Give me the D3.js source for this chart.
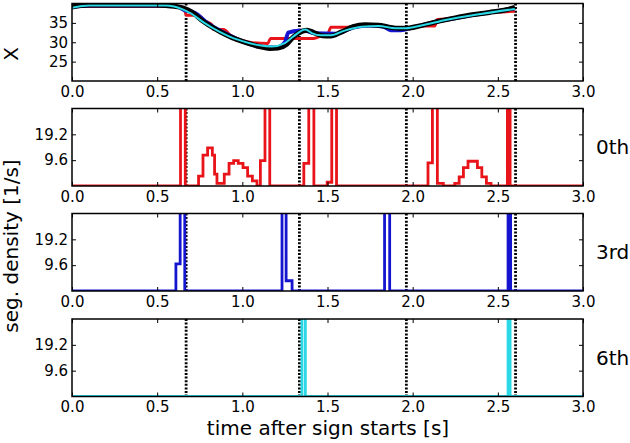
<!DOCTYPE html>
<html>
<head>
<meta charset="utf-8">
<script src="https://cdn.jsdelivr.net/npm/d3@7"></script>
<style>
  body { margin: 0; background: #fff; }
  text { font-family: "DejaVu Sans", sans-serif; }
</style>
</head>
<body>
<svg id="chart" width="630" height="443"></svg>
<script>
// sign onsets (dotted verticals)
const onsets = [0.67, 1.335, 1.963, 2.604];
const xTicks = [0, 0.5, 1.0, 1.5, 2.0, 2.5, 3.0];
const xTopTicks = [25, 30, 35];
const densTicks = [9.6, 19.2];
const rowLabels = ["0th", "3rd", "6th"];

// top panel: trajectories [time, X]
const blackLine = [[0,39.1],[0.05,39.5],[0.1,39.6],[0.3,39.6],[0.5,39.6],[0.55,39.5],[0.6,39.3],[0.65,38.9],
  [0.7,37.9],[0.77,35.4],[0.87,32.7],[0.94,31.2],[1.0,30.2],[1.1,28.9],[1.16,28.4],[1.21,28.5],[1.26,29.5],
  [1.3,31.4],[1.35,32.8],[1.38,33.1],[1.42,32.5],[1.47,31.7],[1.52,31.6],[1.58,32.6],[1.65,34.0],[1.72,34.5],
  [1.8,34.4],[1.86,33.9],[1.92,33.6],[1.98,33.7],[2.05,34.3],[2.15,35.4],[2.25,36.3],[2.35,37.1],[2.45,37.7],
  [2.55,38.4],[2.6,39.0]];
const cyanLine = [[0,38.9],[0.1,39.5],[0.55,39.5],[0.6,39.2],[0.65,38.5],[0.7,37.4],[0.77,35.2],[0.87,32.6],
  [0.95,31.0],[1.0,30.3],[1.1,29.2],[1.17,28.9],[1.25,29.8],[1.3,31.5],[1.37,33.3],[1.41,32.3],[1.46,31.8],
  [1.52,31.8],[1.6,33.0],[1.7,34.0],[1.8,34.2],[1.9,33.6],[1.96,33.6],[2.05,34.3],[2.2,35.8],[2.4,37.3],[2.6,38.6]];
const blueLine = [[0,39.1],[0.1,39.5],[0.55,39.5],[0.62,39.2],[0.66,38.3],[0.72,37.6],[0.8,34.8],[0.9,32.3],
  [1.0,30.2],[1.1,28.9],[1.2,28.6],[1.25,30.0],[1.27,32.5],[1.33,33.0],[1.37,33.0],[1.42,32.3],[1.55,32.2],
  [1.65,33.8],[1.75,34.3],[1.83,34.0],[1.87,33.1],[1.93,33.1],[2.0,33.8],[2.15,35.4],[2.35,37.0],[2.6,38.8]];
const redLine = [[0,39.2],[0.62,39.2],[0.66,38.3],[0.672,37.0],[0.74,37.0],[0.78,35.5],[0.82,34.6],[0.83,33.3],
  [0.89,33.3],[0.93,31.8],[1.0,30.4],[1.06,29.9],[1.15,29.7],[1.165,31.0],[1.42,31.0],[1.46,31.6],[1.5,32.0],
  [1.52,33.9],[1.62,33.9],[1.7,34.4],[1.82,34.4],[1.86,33.6],[1.97,33.5],[2.06,34.2],[2.13,34.2],[2.145,35.9],
  [2.19,36.0],[2.3,36.8],[2.45,37.6],[2.55,37.9],[2.6,38.0]];

// segment density histograms [bin start, value]
const density0th = [[0,0],[0.637,40],[0.665,0],[0.743,3.7],[0.769,11.5],[0.796,14.2],[0.824,11.5],[0.837,4.4],
  [0.851,1.0],[0.894,4.4],[0.922,8.4],[0.949,9.4],[0.976,8.4],[1.004,6.8],[1.031,3.7],[1.059,1.9],[1.086,0],
  [1.106,9.4],[1.133,40],[1.161,0],[1.361,8.4],[1.39,40],[1.42,0],[1.498,1.4],[1.525,40],[1.553,0],[2.09,8.6],
  [2.116,40],[2.145,1.0],[2.18,0],[2.247,1.0],[2.273,3.4],[2.298,6.8],[2.325,9.2],[2.38,6.8],[2.406,3.4],
  [2.433,1.0],[2.46,0],[2.556,40],[2.572,0],[3.0,0]];
const density3rd = [[0,0],[0.61,10.1],[0.635,40],[0.662,0],[1.233,40],[1.257,3.8],[1.292,0],[1.835,40],
  [1.865,0],[2.56,40],[2.575,0],[3.0,0]];
const density6th = [[0,0],[1.35,40],[1.37,0],[2.56,40],[2.572,0],[3.0,0]];

const svg = d3.select("#chart");
const left = 72, right = 583, ph = 77.5;
const tops = [3.5, 108.5, 213.5, 319];

const x = d3.scaleLinear().domain([0, 3]).range([left, right]);

function panel(i, yDomain, yTickVals, fmt) {
  const g = svg.append("g").attr("transform", `translate(0,${tops[i]})`);
  const y = d3.scaleLinear().domain(yDomain).range([ph, 0]);
  g.append("clipPath").attr("id", "clip" + i)
    .append("rect").attr("x", left).attr("y", 0).attr("width", right - left).attr("height", ph);
  const plot = g.append("g").attr("clip-path", `url(#clip${i})`);

  plot.selectAll("line.onset").data(onsets).enter().append("line")
    .attr("class", "onset")
    .attr("x1", d => x(d)).attr("x2", d => x(d))
    .attr("y1", 0).attr("y2", ph)
    .attr("stroke", "#000").attr("stroke-width", 2.8)
    .attr("stroke-dasharray", "2,1.6");

  const ax = (a) => a.attr("font-size", 15).attr("font-family", "DejaVu Sans")
    .call(s => s.select(".domain").remove())
    .call(s => s.selectAll(".tick line").attr("stroke-width", 1));

  g.append("g").attr("transform", `translate(0,${ph})`)
    .call(d3.axisBottom(x).tickValues(xTicks).tickFormat(d3.format(".1f")).tickSizeInner(-4).tickSizeOuter(0).tickPadding(5))
    .call(ax);
  g.append("g")
    .call(d3.axisTop(x).tickValues(xTicks).tickFormat("").tickSizeInner(-4).tickSizeOuter(0))
    .call(ax);
  g.append("g").attr("transform", `translate(${left},0)`)
    .call(d3.axisLeft(y).tickValues(yTickVals).tickFormat(fmt).tickSizeInner(-4).tickSizeOuter(0).tickPadding(4))
    .call(ax);
  g.append("g").attr("transform", `translate(${right},0)`)
    .call(d3.axisRight(y).tickValues(yTickVals).tickFormat("").tickSizeInner(-4).tickSizeOuter(0))
    .call(ax);

  return { g, plot, y };
}

function frame(p) {
  p.g.append("rect").attr("x", left).attr("y", 0).attr("width", right - left).attr("height", ph)
    .attr("fill", "none").attr("stroke", "#000").attr("stroke-width", 1.5);
}

// top panel
const p0 = panel(0, [20, 40], xTopTicks, d3.format("d"));
const smooth = d3.line().x(d => x(d[0])).y(d => p0.y(d[1])).curve(d3.curveMonotoneX);
[[redLine, "#e8141a", 3], [blueLine, "#1515d0", 4], [blackLine, "#000", 5], [cyanLine, "#2ad8e6", 2]]
  .forEach(([data, col, w]) => {
    p0.plot.append("path").datum(data)
      .attr("d", smooth).attr("fill", "none")
      .attr("stroke", col).attr("stroke-width", w).attr("stroke-linejoin", "round");
  });
frame(p0);

// density panels
const densities = [[density0th, "#e8141a"], [density3rd, "#1515d0"], [density6th, "#2ad8e6"]];
densities.forEach(([data, col], k) => {
  const p = panel(k + 1, [0, 28.8], densTicks, d3.format(".1f"));
  const step = d3.line().x(d => x(d[0])).y(d => p.y(d[1])).curve(d3.curveStepAfter);
  p.plot.append("path").datum(data)
    .attr("d", step).attr("fill", "none")
    .attr("stroke", col).attr("stroke-width", 2.8);
  frame(p);
  p.g.append("text").attr("x", 596).attr("y", ph / 2 + 7)
    .attr("font-size", 20).text(rowLabels[k]);
});

// axis titles
svg.append("text").attr("transform", "translate(18,54) rotate(-90)")
  .attr("text-anchor", "middle").attr("font-size", 20).text("X");
svg.append("text").attr("transform", "translate(18,246) rotate(-90)")
  .attr("text-anchor", "middle").attr("font-size", 20).text("seg. density [1/s]");
svg.append("text").attr("x", 328).attr("y", 435)
  .attr("text-anchor", "middle").attr("font-size", 20).text("time after sign starts [s]");
</script>
</body>
</html>
